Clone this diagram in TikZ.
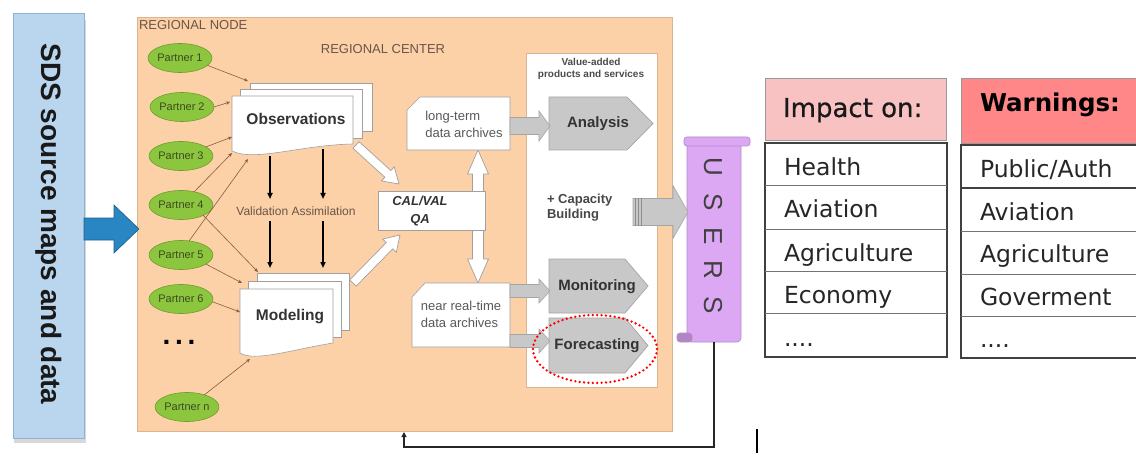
\documentclass[tikz,border=0pt]{standalone}
\usepackage{fontspec}
\setmainfont{Liberation Sans}
\newfontfamily\dv{DejaVu Sans}
\newfontfamily\dvsemi[FakeBold=0.6]{DejaVu Sans}
\usetikzlibrary{arrows.meta,shapes.geometric,calc}
\definecolor{sdsblue}{HTML}{BAD6EE}
\definecolor{sdsborder}{HTML}{8CB2D4}
\definecolor{bluearrow}{HTML}{2A86C2}
\definecolor{bluearrowb}{HTML}{1C5F8C}
\definecolor{regionfill}{HTML}{FDD1A7}
\definecolor{regionborder}{HTML}{D9B594}
\definecolor{regtext}{HTML}{6A5548}
\definecolor{partnergreen}{HTML}{8CC63F}
\definecolor{partnerborder}{HTML}{6E9C2C}
\definecolor{partnertext}{HTML}{3D4A20}
\definecolor{arrowbrown}{HTML}{8A5A40}
\definecolor{pagegray}{HTML}{A0A0A0}
\definecolor{pentafill}{HTML}{C8C8C8}
\definecolor{pentaborder}{HTML}{A5A5A5}
\definecolor{usersfill}{HTML}{DCA8F4}
\definecolor{usersborder}{HTML}{B48ACF}
\definecolor{impactpink}{HTML}{F9C2C2}
\definecolor{warnred}{HTML}{FF8787}
\definecolor{tblline}{HTML}{404040}
\definecolor{darktext}{HTML}{333333}
\newcommand\fsz[2]{\fontsize{#1}{#2}\selectfont}
\newcommand\fatarrow[6]{%
  \coordinate (fah) at ($#3!#6!#2$);
  \draw[#1] ($#2!#4!90:#3$) -- ($(fah)!#4!90:#3$) -- ($(fah)!#5!90:#3$) -- #3 -- ($(fah)!#5!-90:#3$) -- ($(fah)!#4!-90:#3$) -- ($#2!#4!-90:#3$) -- cycle;}
\newcommand\dblarrow[6]{%
  \coordinate (dah) at ($#2!#6!#3$);
  \coordinate (dbh) at ($#3!#6!#2$);
  \draw[#1] #2 -- ($(dah)!#5!90:#3$) -- ($(dah)!#4!90:#3$) -- ($(dbh)!#4!-90:#2$) -- ($(dbh)!#5!-90:#2$) -- #3 -- ($(dbh)!#5!90:#2$) -- ($(dbh)!#4!90:#2$) -- ($(dah)!#4!-90:#3$) -- ($(dah)!#5!-90:#3$) -- cycle;}
\tikzset{
  partner/.style={ellipse, draw=partnerborder, fill=partnergreen, line width=0.6pt, minimum width=57pt, minimum height=29pt, inner sep=0pt, font=\fsz{11}{13}, text=partnertext},
  parr/.style={draw=arrowbrown, line width=0.6pt, -{Stealth[length=4pt,width=3.5pt]}},
  page/.style={draw=pagegray, fill=white, line width=0.6pt},
  doclabel/.style={font=\bfseries\fsz{15.5}{18}, text=darktext},
  blackarr/.style={draw=black, line width=1.5pt, -{Triangle[length=6pt,width=5pt]}},
  hollow/.style={draw=pagegray, fill=white, line width=0.7pt},
  grayarr/.style={draw=pentaborder, fill=pentafill, line width=0.6pt},
  penta/.style={draw=pentaborder, fill=pentafill, line width=0.7pt},
  pentalabel/.style={font=\bfseries\fsz{15}{18}, text=darktext},
  archtext/.style={font=\fsz{13}{17}, text=black!65, align=left},
  userletter/.style={rotate=-90, font=\fsz{26}{30}, text=black!75},
  tbl/.style={draw=tblline, line width=1.3pt},
  tbltext/.style={anchor=base west, font=\dv\fsz{23.5}{28}, text=black!85},
}
\begin{document}
\begin{tikzpicture}[x=1pt,y=-1pt, every node/.style={inner sep=0pt, outer sep=0pt}]
\useasboundingbox (0,0) rectangle (1136,468);
\fill[white] (0,0) rectangle (1136,468);

% left source box
\fill[black!30, opacity=0.5] (14,20) rectangle (86,443);
\node[draw=sdsborder, fill=sdsblue, line width=0.8pt, minimum width=71pt, minimum height=425pt] (sds) at (48.5,225.5) {};
\node[rotate=-90, font=\bfseries\fsz{28}{32}, text=black!90] (sdstext) at (49,224) {SDS source maps and data};

% regional node
\node[draw=regionborder, fill=regionfill, line width=0.6pt, minimum width=535pt, minimum height=414pt] (region) at (404.5,224) {};
\node[anchor=west, font=\fsz{13}{15}, text=regtext] (rn) at (139,25) {REGIONAL NODE};
\node[font=\fsz{13}{15}, text=regtext] (rc) at (383,49) {REGIONAL CENTER};

% blue arrow
\coordinate (ba1) at (84,229);
\coordinate (ba2) at (139,229);
\fatarrow{draw=bluearrowb, fill=bluearrow, line width=0.6pt}{(ba1)}{(ba2)}{11pt}{24pt}{25pt}

% partners
\node[partner] (p1) at (180,58) {Partner 1};
\node[partner] (p2) at (182,107) {Partner 2};
\node[partner] (p3) at (181,156) {Partner 3};
\node[partner] (p4) at (181,205) {Partner 4};
\node[partner] (p5) at (181,255) {Partner 5};
\node[partner] (p6) at (181,299) {Partner 6};
\node[partner] (pn) at (187,407) {Partner n};
\node[font=\bfseries\fsz{28}{30}, text=black] (dots) at (179,342) {.\,.\,.};

% observations stack
\draw[page] (250,83) rectangle (372,131);
\draw[page] (240,89) rectangle (362,138);
\draw[page] (232,96) -- (353,96) -- (353,144) .. controls (300,145) and (255,162) .. (232,151) -- cycle;
\node[doclabel] (obs) at (296,119) {Observations};

% modeling stack
\draw[page] (257,273) rectangle (349,330);
\draw[page] (248,281) rectangle (341,337);
\draw[page] (240,289) -- (333,289) -- (333,343) .. controls (290,350) and (255,362) .. (240,353) -- cycle;
\node[doclabel] (mod) at (290,317) {Modeling};

% partner connectors
\coordinate (o1) at (248,81);
\coordinate (o2) at (230,102);
\coordinate (o3) at (232,137);
\coordinate (o4) at (232,153);
\coordinate (o5) at (248,159);
\coordinate (m4) at (258,272);
\coordinate (m5) at (242,283);
\coordinate (m6) at (240,312);
\coordinate (mn) at (250,359);
\draw[parr] (p1.-15) -- (o1);
\draw[parr] (p2.east) -- (o2);
\draw[parr] (p3.20) -- (o3);
\draw[parr] (p4.45) -- (o4);
\draw[parr] (p5.60) -- (o5);
\draw[parr] (p4.-25) -- (m4);
\draw[parr] (p5.-20) -- (m5);
\draw[parr] (p6.-5) -- (m6);
\draw[parr] (pn.35) -- (mn);

% validation / assimilation
\node[font=\fsz{12}{14}, text=regtext] (va) at (296,211) {Validation Assimilation};
\coordinate (v1a) at (270,156); \coordinate (v1b) at (270,199);
\coordinate (v2a) at (323,149); \coordinate (v2b) at (323,199);
\coordinate (v3a) at (270,221); \coordinate (v3b) at (270,268);
\coordinate (v4a) at (323,221); \coordinate (v4b) at (323,268);
\draw[blackarr] (v1a) -- (v1b);
\draw[blackarr] (v2a) -- (v2b);
\draw[blackarr] (v3a) -- (v3b);
\draw[blackarr] (v4a) -- (v4b);

% hollow arrows to CAL/VAL
\coordinate (h1a) at (356,145); \coordinate (h1b) at (399,184);
\coordinate (h2a) at (353,283); \coordinate (h2b) at (400,235);
\fatarrow{hollow}{(h1a)}{(h1b)}{4.5pt}{9.5pt}{15pt}
\fatarrow{hollow}{(h2a)}{(h2b)}{4.5pt}{9.5pt}{15pt}

% double arrow between archives
\coordinate (d1) at (478,150);
\coordinate (d2) at (478,283);
\dblarrow{hollow}{(d1)}{(d2)}{5.5pt}{10.5pt}{24pt}

% CAL/VAL box
\node[draw=pagegray, fill=white, line width=0.6pt, minimum width=107pt, minimum height=39pt] (cal) at (431.5,210.5) {};
\node[font=\bfseries\itshape\fsz{13}{18}, text=darktext, align=center] (caltext) at (420,211) {CAL/VAL\\QA};

% archives
\draw[page] (420,97) -- (510,97) -- (510,150) -- (407,150) -- (407,110) -- cycle;
\node[archtext] (lta) at (464,124.5) {long-term\\data archives};
\draw[page] (425,283) -- (510,283) -- (510,347) -- (412,347) -- (412,297) -- cycle;
\node[archtext] (nrt) at (461,314.5) {near real-time\\data archives};

% value-added panel
\node[draw=regionborder, fill=white, line width=0.7pt, minimum width=131pt, minimum height=334pt] (vap) at (591.5,220) {};
\node[font=\bfseries\fsz{10}{12}, text=black!70, align=center] (vat) at (591,69) {Value-added\\products and services};

% pentagons
\draw[penta] (549,97) -- (627,97) -- (653,123.5) -- (627,150) -- (549,150) -- cycle;
\node[pentalabel] (ana) at (598,124) {Analysis};
\draw[penta] (549,259) -- (625,259) -- (648,286) -- (625,313) -- (549,313) -- cycle;
\node[pentalabel] (mon) at (597,287) {Monitoring};
\draw[penta] (549,318) -- (625,318) -- (648,345.5) -- (625,373) -- (549,373) -- cycle;
\node[pentalabel] (fc) at (597,346) {Forecasting};

% gray arrows archives -> products
\coordinate (g1a) at (510,126); \coordinate (g1b) at (550,126);
\coordinate (g2a) at (510,291); \coordinate (g2b) at (550,291);
\coordinate (g3a) at (510,341); \coordinate (g3b) at (550,341);
\fatarrow{grayarr}{(g1a)}{(g1b)}{8.5pt}{15pt}{11pt}
\fatarrow{grayarr}{(g2a)}{(g2b)}{6.5pt}{12pt}{11pt}
\fatarrow{grayarr}{(g3a)}{(g3b)}{6.5pt}{12pt}{11pt}

% red dotted ring
\node[ellipse, draw=red, line width=2.6pt, dash pattern=on 0pt off 4.4pt, line cap=round, minimum width=124pt, minimum height=68pt] (ring) at (595,349) {};

% capacity building
\node[anchor=west, align=left, font=\bfseries\fsz{13}{15}, text=black!72] (cap) at (547,207.5) {+ Capacity\\Building};

% USERS scroll
\draw[draw=usersborder, fill=usersfill, line width=0.7pt, rounded corners=4pt] (687,141) rectangle (741,342);
\draw[draw=usersborder, fill=usersfill, line width=0.7pt, rounded corners=3pt] (684,137) rectangle (750,146);
\draw[draw=usersborder, fill=usersfill!80!black, line width=0.6pt, rounded corners=3pt] (677,333) rectangle (692,342);
\node[minimum width=54pt, minimum height=201pt] (users) at (714,241.5) {};
\node[userletter] (u1) at (713,167) {U};
\node[userletter] (u2) at (713,202) {S};
\node[userletter] (u3) at (713,236) {E};
\node[userletter] (u4) at (713,270) {R};
\node[userletter] (u5) at (713,305) {S};

% capacity arrow to users
\coordinate (c1) at (633,212); \coordinate (c2) at (688,212);
\fatarrow{grayarr}{(c1)}{(c2)}{13.5pt}{26.5pt}{15pt}
\foreach \xx in {635.5,638.5,641.5}{\draw[black!45, line width=0.8pt] (\xx,198.5) -- (\xx,225.5);}

% feedback line
\coordinate (fb1) at (714,447);
\coordinate (fb2) at (404,447);
\coordinate (fb3) at (404,432);
\draw[draw=black!85, line width=1.8pt, -{Triangle[length=5pt,width=5pt]}] (users.south) -- (fb1) -- (fb2) -- (fb3);
\coordinate (mk1) at (757,429); \coordinate (mk2) at (757,453);
\draw[black, line width=1.2pt] (mk1) -- (mk2);

% Impact table
\node[draw=black!40, fill=impactpink, line width=0.8pt, minimum width=181pt, minimum height=62pt, anchor=north west] (imph) at (765,78) {};
\node[anchor=base west, font=\dvsemi\fsz{26}{30}, text=black!90] (impt) at (783,117) {Impact on:};
\draw[tbl] (765,143) rectangle (947,357);
\foreach \yy in {186,229,271,313}{\draw[draw=black!55, line width=1pt] (765,\yy) -- (947,\yy);}
\node[tbltext] (i1) at (784,176) {Health};
\node[tbltext] (i2) at (784,218) {Aviation};
\node[tbltext] (i3) at (784,261) {Agriculture};
\node[tbltext] (i4) at (784,303) {Economy};
\node[tbltext] (i5) at (784,346) {....};

% Warnings table
\node[draw=black!40, fill=warnred, line width=0.8pt, minimum width=180pt, minimum height=65pt, anchor=north west] (warnh) at (961,78) {};
\node[anchor=base west, font=\dv\bfseries\fsz{24.5}{30}, text=black] (warnt) at (980,112) {Warnings:};
\draw[tbl] (1141,145) -- (961,145) -- (961,358) -- (1141,358);
\foreach \yy in {188,231,274,316}{\draw[draw=black!55, line width=1pt] (961,\yy) -- (1141,\yy);}
\draw[tbl] (961,188) -- (1141,188);
\node[tbltext] (w1) at (980,178) {Public/Auth};
\node[tbltext] (w2) at (980,220) {Aviation};
\node[tbltext] (w3) at (980,262) {Agriculture};
\node[tbltext] (w4) at (980,305) {Goverment};
\node[tbltext] (w5) at (980,347) {....};
\end{tikzpicture}
\end{document}
